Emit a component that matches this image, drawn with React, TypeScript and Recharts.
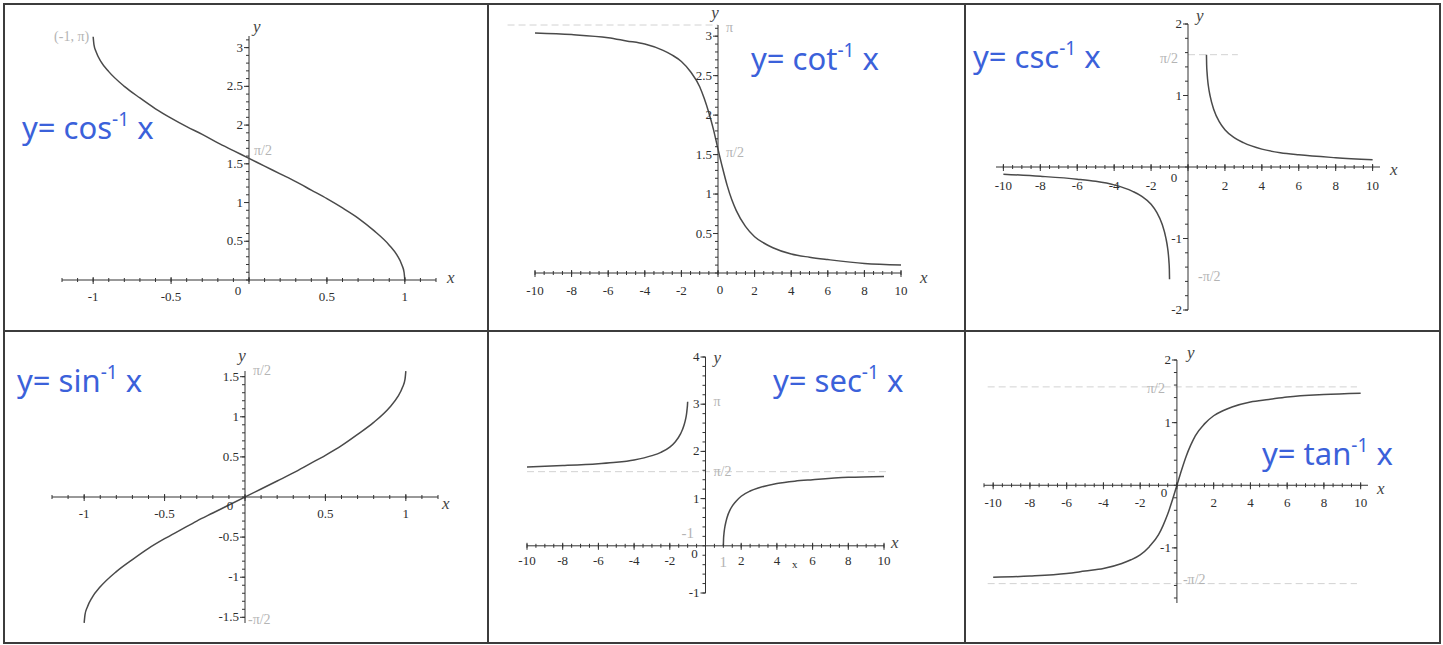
import React from 'react';
import { ComposedChart, Line, Scatter, XAxis, YAxis, ReferenceLine } from 'recharts';

type Pt = { x: number; y: number };

const PI = 3.1416;
const HALF_PI = 1.5708;

// y = cos^-1 x and y = sin^-1 x share the same x samples
const unitX = [-1, -0.995, -0.98, -0.95, -0.9, -0.8, -0.7, -0.6, -0.5, -0.4, -0.3, -0.2, -0.1, 0, 0.1, 0.2, 0.3, 0.4, 0.5, 0.6, 0.7, 0.8, 0.9, 0.95, 0.98, 0.995, 1];
const acosY = [3.14, 3.04, 2.94, 2.82, 2.69, 2.5, 2.35, 2.21, 2.09, 1.98, 1.88, 1.77, 1.67, 1.57, 1.47, 1.37, 1.27, 1.16, 1.05, 0.93, 0.8, 0.64, 0.45, 0.32, 0.2, 0.1, 0];
const asinY = [-1.57, -1.47, -1.37, -1.25, -1.12, -0.93, -0.78, -0.64, -0.52, -0.41, -0.3, -0.2, -0.1, 0, 0.1, 0.2, 0.3, 0.41, 0.52, 0.64, 0.78, 0.93, 1.12, 1.25, 1.37, 1.47, 1.57];

// y = cot^-1 x and y = tan^-1 x over [-10, 10]
const wideX = [-10, -8, -6, -5, -4, -3, -2.5, -2, -1.5, -1, -0.75, -0.5, -0.25, 0, 0.25, 0.5, 0.75, 1, 1.5, 2, 2.5, 3, 4, 5, 6, 8, 10];
const acotY = [3.04, 3.02, 2.98, 2.94, 2.9, 2.82, 2.76, 2.68, 2.55, 2.36, 2.21, 2.03, 1.82, 1.57, 1.33, 1.11, 0.93, 0.79, 0.59, 0.46, 0.38, 0.32, 0.24, 0.2, 0.17, 0.12, 0.1];
const atanY = [-1.47, -1.45, -1.41, -1.37, -1.33, -1.25, -1.19, -1.11, -0.98, -0.79, -0.64, -0.46, -0.24, 0, 0.24, 0.46, 0.64, 0.79, 0.98, 1.11, 1.19, 1.25, 1.33, 1.37, 1.41, 1.45, 1.47];

// y = csc^-1 x, two branches
const rightX = [1, 1.01, 1.03, 1.06, 1.1, 1.2, 1.4, 1.7, 2, 2.5, 3, 4, 5, 6, 8, 10];
const acscRightY = [1.57, 1.43, 1.33, 1.23, 1.14, 0.99, 0.8, 0.63, 0.52, 0.41, 0.34, 0.25, 0.2, 0.17, 0.13, 0.1];
const leftX = [-10, -8, -6, -5, -4, -3, -2.5, -2, -1.7, -1.4, -1.2, -1.1, -1.06, -1.03, -1.01, -1];
const acscLeftY = [-0.1, -0.13, -0.17, -0.2, -0.25, -0.34, -0.41, -0.52, -0.63, -0.8, -0.99, -1.14, -1.23, -1.33, -1.43, -1.57];

// y = sec^-1 x, two branches
const asecRightY = [0, 0.14, 0.24, 0.34, 0.43, 0.59, 0.78, 0.94, 1.05, 1.16, 1.23, 1.32, 1.37, 1.4, 1.45, 1.47];
const asecLeftY = [1.67, 1.7, 1.74, 1.77, 1.82, 1.91, 1.98, 2.09, 2.2, 2.37, 2.56, 2.71, 2.8, 2.9, 2.98, 3.05];

const zip = (xs: number[], ys: number[]): Pt[] => xs.map((x, i) => ({ x, y: ys[i] }));

const steps = (a: number, b: number, step: number) => {
  const out: number[] = [];
  for (let i = 0; a + i * step <= b + 1e-9; i++) out.push(+(a + i * step).toFixed(4));
  return out;
};

const SERIF = "'Liberation Serif', 'DejaVu Serif', serif";

type Note = {
  x: number;
  y: number;
  text: string;
  dx: number;
  dy: number;
  anchor?: 'start' | 'middle' | 'end';
  tone?: 'tick' | 'pale' | 'axis';
  size?: number;
};

type Guide = { y: number; x1: number; x2: number };

type PanelSpec = {
  left: number;
  top: number;
  width: number;
  height: number;
  margin: { top: number; right: number; bottom: number; left: number };
  xDomain: [number, number];
  yDomain: [number, number];
  curves: Pt[][];
  xMinor: number[];
  xMajor: number[];
  yMinor: number[];
  yMajor: number[];
  xLabelDy: number;
  notes: Note[];
  guides: Guide[];
  fn: string;
  titleLeft: number;
  titleTop: number;
};

const renderTick = (props: any) => {
  const { cx, cy } = props;
  const kind = props.payload?.kind ?? props.kind;
  const s = '#333';
  if (kind === 'xminor') return <line x1={cx} x2={cx} y1={cy - 2} y2={cy + 2} stroke={s} strokeWidth={1} />;
  if (kind === 'xmajor') return <line x1={cx} x2={cx} y1={cy - 3} y2={cy + 4} stroke={s} strokeWidth={1} />;
  if (kind === 'yminor') return <line x1={cx - 3} x2={cx} y1={cy} y2={cy} stroke={s} strokeWidth={1} />;
  return <line x1={cx - 5} x2={cx} y1={cy} y2={cy} stroke={s} strokeWidth={1} />;
};

const renderNote = (props: any) => {
  const { cx, cy } = props;
  const n: Note = props.payload ?? props;
  const tone = n.tone ?? 'tick';
  const fill = tone === 'pale' ? '#b4b4b4' : tone === 'axis' ? '#444' : '#2e2e2e';
  const size = n.size ?? (tone === 'axis' ? 17 : tone === 'pale' ? 14 : 13);
  return (
    <text
      x={cx + n.dx}
      y={cy + n.dy}
      textAnchor={n.anchor ?? 'start'}
      fill={fill}
      style={{ fontFamily: SERIF, fontSize: size, fontStyle: tone === 'axis' ? 'italic' : 'normal' }}
    >
      {n.text}
    </text>
  );
};

const Panel = ({ spec }: { spec: PanelSpec }) => {
  const ticks = [
    ...spec.xMinor.map((v) => ({ x: v, y: 0, kind: 'xminor' })),
    ...spec.xMajor.map((v) => ({ x: v, y: 0, kind: 'xmajor' })),
    ...spec.yMinor.map((v) => ({ x: 0, y: v, kind: 'yminor' })),
    ...spec.yMajor.map((v) => ({ x: 0, y: v, kind: 'ymajor' })),
  ];
  const labels: Note[] = [
    ...spec.xMajor.filter((v) => v !== 0).map((v) => ({ x: v, y: 0, text: String(v), dx: 0, dy: spec.xLabelDy, anchor: 'middle' as const })),
    ...spec.yMajor.filter((v) => v !== 0).map((v) => ({ x: 0, y: v, text: String(v), dx: -6, dy: 4, anchor: 'end' as const })),
    ...spec.notes,
  ];
  return (
    <div style={{ position: 'absolute', left: spec.left, top: spec.top, width: spec.width, height: spec.height }}>
      <ComposedChart width={spec.width} height={spec.height} margin={spec.margin}>
        <XAxis type="number" dataKey="x" domain={spec.xDomain} hide />
        <YAxis type="number" dataKey="y" domain={spec.yDomain} hide />
        {spec.guides.map((g, i) => (
          <ReferenceLine
            key={`g${i}`}
            segment={[{ x: g.x1, y: g.y }, { x: g.x2, y: g.y }]}
            stroke="#d2d2d2"
            strokeDasharray="7 4"
            ifOverflow="visible"
          />
        ))}
        <ReferenceLine y={0} stroke="#333" ifOverflow="visible" />
        <ReferenceLine x={0} stroke="#333" ifOverflow="visible" />
        {spec.curves.map((c, i) => (
          <Line
            key={`c${i}`}
            data={c}
            dataKey="y"
            type="monotone"
            dot={false}
            stroke="#4a4a4a"
            strokeWidth={1.5}
            isAnimationActive={false}
          />
        ))}
        <Scatter data={ticks} shape={renderTick} isAnimationActive={false} legendType="none" />
        <Scatter data={labels} shape={renderNote} isAnimationActive={false} legendType="none" />
      </ComposedChart>
      <div
        style={{
          position: 'absolute',
          left: spec.titleLeft,
          top: spec.titleTop,
          fontFamily: "'Noto Sans', sans-serif",
          fontSize: 31,
          lineHeight: '30px',
          color: '#3b61da',
          whiteSpace: 'nowrap',
        }}
      >
        y= {spec.fn}
        <span style={{ fontSize: 19, position: 'relative', top: -13 }}>-1</span> x
      </div>
    </div>
  );
};

const panels: PanelSpec[] = [
  {
    left: 0, top: 0, width: 488, height: 330,
    margin: { top: 36, right: 52, bottom: 50, left: 62 },
    xDomain: [-1.2, 1.2], yDomain: [0, 3.15],
    curves: [zip(unitX, acosY)],
    xMinor: steps(-1.2, 1.2, 0.1), xMajor: [-1, -0.5, 0, 0.5, 1],
    yMinor: steps(0, 3.1, 0.1), yMajor: [0.5, 1, 1.5, 2, 2.5, 3],
    xLabelDy: 21,
    notes: [
      { x: 0, y: 0, text: '0', dx: -11, dy: 15, anchor: 'middle' },
      { x: -1, y: PI, text: '(-1, π)', dx: -4, dy: 4, anchor: 'end', tone: 'pale' },
      { x: 0, y: HALF_PI, text: 'π/2', dx: 5, dy: -3, tone: 'pale' },
      { x: 0, y: 3.15, text: 'y', dx: 4, dy: -4, tone: 'axis' },
      { x: 1.2, y: 0, text: 'x', dx: 11, dy: 3, tone: 'axis' },
    ],
    guides: [],
    fn: 'cos', titleLeft: 22, titleTop: 112,
  },
  {
    left: 488, top: 0, width: 477, height: 330,
    margin: { top: 25, right: 64, bottom: 57, left: 47 },
    xDomain: [-10, 10], yDomain: [0, PI],
    curves: [zip(wideX, acotY)],
    xMinor: steps(-10, 10, 0.5), xMajor: [-10, -8, -6, -4, -2, 0, 2, 4, 6, 8, 10],
    yMinor: steps(0, 3.1, 0.1), yMajor: [0.5, 1, 1.5, 2, 2.5, 3],
    xLabelDy: 22,
    notes: [
      { x: 0, y: 0, text: '0', dx: 2, dy: 21, anchor: 'middle' },
      { x: 0, y: PI, text: 'π', dx: 8, dy: 7, tone: 'pale' },
      { x: 0, y: HALF_PI, text: 'π/2', dx: 8, dy: 8, tone: 'pale' },
      { x: 0, y: PI, text: 'y', dx: -3, dy: -7, anchor: 'middle', tone: 'axis' },
      { x: 10, y: 0, text: 'x', dx: 19, dy: 10, tone: 'axis' },
    ],
    guides: [{ y: PI, x1: -11.5, x2: 0 }],
    fn: 'cot', titleLeft: 263, titleTop: 43,
  },
  {
    left: 965, top: 0, width: 478, height: 330,
    margin: { top: 24, right: 63, bottom: 20, left: 31 },
    xDomain: [-10.4, 10.4], yDomain: [-2, 2],
    curves: [zip(rightX, acscRightY), zip(leftX, acscLeftY)],
    xMinor: steps(-10, 10, 0.5), xMajor: [-10, -8, -6, -4, -2, 0, 2, 4, 6, 8, 10],
    yMinor: steps(-2, 2, 0.2), yMajor: [-2, -1, 1, 2],
    xLabelDy: 23,
    notes: [
      { x: 0, y: 0, text: '0', dx: -14, dy: 15, anchor: 'middle' },
      { x: 0, y: HALF_PI, text: 'π/2', dx: -10, dy: 8, anchor: 'end', tone: 'pale' },
      { x: 0, y: -HALF_PI, text: '-π/2', dx: 10, dy: 2, tone: 'pale' },
      { x: 0, y: 2, text: 'y', dx: 8, dy: -3, tone: 'axis' },
      { x: 10.4, y: 0, text: 'x', dx: 10, dy: 8, tone: 'axis' },
    ],
    guides: [{ y: HALF_PI, x1: 0, x2: 2.7 }],
    fn: 'csc', titleLeft: 8, titleTop: 41,
  },
  {
    left: 0, top: 330, width: 488, height: 315,
    margin: { top: 41, right: 50, bottom: 22, left: 52 },
    xDomain: [-1.2, 1.2], yDomain: [-HALF_PI, HALF_PI],
    curves: [zip(unitX, asinY)],
    xMinor: steps(-1.2, 1.2, 0.1), xMajor: [-1, -0.5, 0, 0.5, 1],
    yMinor: steps(-1.5, 1.5, 0.1), yMajor: [-1.5, -1, -0.5, 0.5, 1, 1.5],
    xLabelDy: 21,
    notes: [
      { x: 0, y: 0, text: '0', dx: -15, dy: 13, anchor: 'middle' },
      { x: 0, y: HALF_PI, text: 'π/2', dx: 8, dy: 4, tone: 'pale' },
      { x: 0, y: -HALF_PI, text: '-π/2', dx: 3, dy: 1, tone: 'pale' },
      { x: 0, y: HALF_PI, text: 'y', dx: -3, dy: -10, anchor: 'middle', tone: 'axis' },
      { x: 1.2, y: 0, text: 'x', dx: 4, dy: 12, tone: 'axis' },
    ],
    guides: [],
    fn: 'sin', titleLeft: 17, titleTop: 35,
  },
  {
    left: 488, top: 330, width: 477, height: 315,
    margin: { top: 27, right: 81, bottom: 52, left: 39 },
    xDomain: [-10, 10], yDomain: [-1, 4],
    curves: [zip(leftX, asecLeftY), zip(rightX, asecRightY)],
    xMinor: steps(-10, 10, 0.5), xMajor: [-10, -8, -6, -4, -2, 0, 2, 4, 6, 8, 10],
    yMinor: steps(-1, 4, 0.2), yMajor: [-1, 1, 2, 3, 4],
    xLabelDy: 19,
    notes: [
      { x: 0, y: 0, text: '0', dx: -11, dy: 12, anchor: 'middle' },
      { x: 0, y: PI, text: 'π', dx: 8, dy: 8, tone: 'pale' },
      { x: 0, y: HALF_PI, text: 'π/2', dx: 8, dy: 4, tone: 'pale' },
      { x: -1, y: 0, text: '-1', dx: 0, dy: -8, anchor: 'middle', tone: 'pale', size: 15 },
      { x: 1, y: 0, text: '1', dx: 0, dy: 21, anchor: 'middle', tone: 'pale', size: 15 },
      { x: 5, y: 0, text: 'x', dx: 0, dy: 22, anchor: 'middle', size: 11 },
      { x: 0, y: 4, text: 'y', dx: 8, dy: 6, tone: 'axis' },
      { x: 10, y: 0, text: 'x', dx: 7, dy: 2, tone: 'axis' },
    ],
    guides: [{ y: HALF_PI, x1: -10, x2: 10.2 }],
    fn: 'sec', titleLeft: 285, titleTop: 35,
  },
  {
    left: 965, top: 330, width: 478, height: 315,
    margin: { top: 30, right: 75, bottom: 42, left: 19 },
    xDomain: [-10.5, 10.4], yDomain: [-1.88, 2],
    curves: [zip(wideX, atanY)],
    xMinor: steps(-10.5, 10, 0.5), xMajor: [-10, -8, -6, -4, -2, 0, 2, 4, 6, 8, 10],
    yMinor: steps(-1.8, 2, 0.2), yMajor: [-1, 1, 2],
    xLabelDy: 22,
    notes: [
      { x: 0, y: 0, text: '0', dx: -13, dy: 12, anchor: 'middle' },
      { x: 0, y: HALF_PI, text: 'π/2', dx: -12, dy: 6, anchor: 'end', tone: 'pale' },
      { x: 0, y: -HALF_PI, text: '-π/2', dx: 6, dy: 0, tone: 'pale' },
      { x: 0, y: 2, text: 'y', dx: 10, dy: -2, tone: 'axis' },
      { x: 10.4, y: 0, text: 'x', dx: 9, dy: 9, tone: 'axis' },
    ],
    guides: [
      { y: HALF_PI, x1: -10.3, x2: 9.8 },
      { y: -HALF_PI, x1: -10.3, x2: 9.8 },
    ],
    fn: 'tan', titleLeft: 297, titleTop: 108,
  },
];

const rule = (left: number, top: number, width: number, height: number) => (
  <div style={{ position: 'absolute', left, top, width, height, background: '#3c3c3c' }} />
);

const App = () => (
  <div style={{ position: 'absolute', left: 0, top: 0, width: 1443, height: 645, background: '#fff', overflow: 'hidden' }}>
    {panels.map((p, i) => (
      <Panel key={i} spec={p} />
    ))}
    {rule(3, 3, 1438, 2)}
    {rule(3, 642, 1438, 2)}
    {rule(3, 3, 2, 641)}
    {rule(1439, 3, 2, 641)}
    {rule(487, 3, 2, 641)}
    {rule(964, 3, 2, 641)}
    {rule(3, 330, 1438, 2)}
  </div>
);

export default App;
